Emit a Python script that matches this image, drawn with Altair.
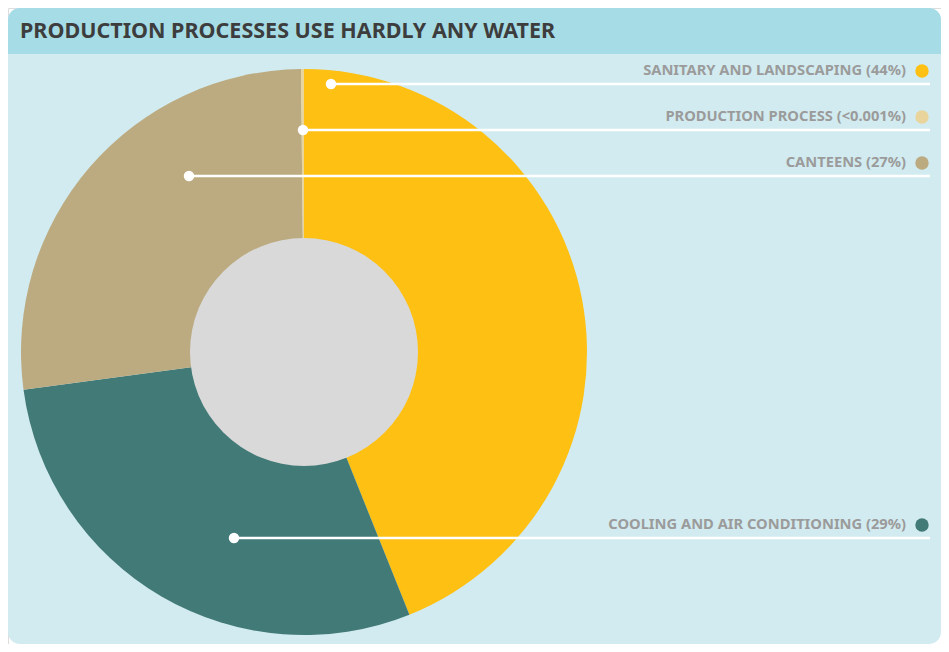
import altair as alt
import pandas as pd

# ---- data ----
categories = ["SANITARY AND LANDSCAPING", "COOLING AND AIR CONDITIONING", "CANTEENS", "PRODUCTION PROCESS"]
shares = [44, 29, 27, 0.17]          # drawn share of the ring
pct_labels = ["44%", "29%", "27%", "<0.001%"]
colors = ["#fdc013", "#427a78", "#bcab80", "#e9d49c"]
title = "PRODUCTION PROCESSES USE HARDLY ANY WATER"

# ---- layout (svg pixels) ----
W, H = 933, 636
CX, CY, R_OUT, R_IN = 296, 344, 283, 114
legend_cats = ["SANITARY AND LANDSCAPING", "PRODUCTION PROCESS", "CANTEENS", "COOLING AND AIR CONDITIONING"]
line_y = [76, 122, 168, 530]
pointer_x = [323, 295, 181, 226]
LINE_END = 922
DOT_X = 914
TEXT_X = 898

pie_df = pd.DataFrame({"cat": categories, "share": shares, "idx": range(len(categories))})
lab = {c: p for c, p in zip(categories, pct_labels)}
leg_df = pd.DataFrame({
    "cat": legend_cats,
    "label": [f"{c} ({lab[c]})" for c in legend_cats],
    "ly": line_y,
    "ty": [y - 13 for y in line_y],
    "px": pointer_x,
    "lx2": [LINE_END] * 4,
    "dx": [DOT_X] * 4,
    "tx": [TEXT_X] * 4,
})
color_scale = alt.Scale(domain=categories, range=colors)
one = pd.DataFrame({"a": [0]})

panel = alt.Chart(one).mark_rect(color="#d2ebf0", cornerRadius=12).encode(
    x=alt.value(0), x2=alt.value(W), y=alt.value(0), y2=alt.value(H))
header = alt.Chart(one).mark_rect(color="#a6dce5", cornerRadiusTopLeft=12,
                                  cornerRadiusTopRight=12).encode(
    x=alt.value(0), x2=alt.value(W), y=alt.value(0), y2=alt.value(46))
title_t = alt.Chart(one).mark_text(text=title, align="left", baseline="middle",
                                   font="Noto Sans", fontWeight="bold", fontSize=21.5,
                                   color="#3d3d3d").encode(x=alt.value(12), y=alt.value(24))

pie = alt.Chart(pie_df).mark_arc(radius=R_OUT, strokeWidth=0).encode(
    theta=alt.Theta("share:Q", stack=True),
    order=alt.Order("idx:Q"),
    color=alt.Color("cat:N", scale=color_scale, legend=None),
    x=alt.value(CX), y=alt.value(CY))
hole = alt.Chart(one).mark_circle(color="#d9d9d9", opacity=1,
                                  size=(2 * R_IN) ** 2).encode(
    x=alt.value(CX), y=alt.value(CY))

lines = alt.Chart(leg_df).mark_rule(color="white", strokeWidth=2.5).encode(
    x=alt.X("px:Q", scale=None, axis=None), x2="lx2:Q",
    y=alt.Y("ly:Q", scale=None, axis=None))
pdots = alt.Chart(leg_df).mark_circle(color="white", opacity=1, size=110).encode(
    x=alt.X("px:Q", scale=None, axis=None), y=alt.Y("ly:Q", scale=None, axis=None))
ldots = alt.Chart(leg_df).mark_circle(opacity=1, size=180).encode(
    x=alt.X("dx:Q", scale=None, axis=None), y=alt.Y("ty:Q", scale=None, axis=None),
    color=alt.Color("cat:N", scale=color_scale, legend=None))
texts = alt.Chart(leg_df).mark_text(align="right", baseline="middle", font="Noto Sans",
                                    fontWeight="bold", fontSize=14.7, color="#9b9b9b").encode(
    x=alt.X("tx:Q", scale=None, axis=None), y=alt.Y("ty:Q", scale=None, axis=None),
    text="label:N")

chart = alt.layer(panel, header, title_t, pie, hole, lines, pdots, ldots, texts).properties(
    width=W, height=H, padding=0, autosize=alt.AutoSizeParams(type="none")
).configure_view(stroke=None).configure(background="white")

chart.save("out.html", embed_options={"renderer": "svg", "actions": False})
